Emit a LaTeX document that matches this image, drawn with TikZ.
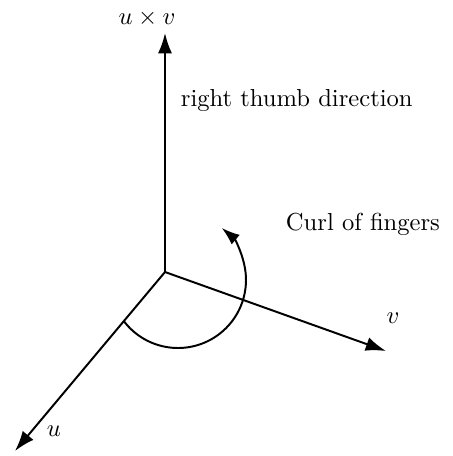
\documentclass[tikz,border=0pt]{standalone}
\usepackage{amsmath, amssymb}
\usepackage{tikz}
\usetikzlibrary{arrows.meta, positioning, calc}

\begin{document}
\begin{tikzpicture}[
  x=0.0143cm, y=-0.0143cm,
  axis/.style={thick, -{Latex[length=2.9mm, width=2mm]}},
  curl/.style={thick, -{Latex[length=2.6mm, width=1.8mm]}},
  lbl/.style={font=\normalsize, inner sep=1pt}
]
\useasboundingbox (0,0) rectangle (452,456);

%% ── Axes from the common origin
\coordinate (O) at (165,272);
\coordinate (uv) at (165,33);
\coordinate (vtip) at (386,351);
\coordinate (utip) at (15,451);
\draw[axis] (O) -- (uv);
\draw[axis] (O) -- (vtip);
\draw[axis] (O) -- (utip);

%% ── Labels
\node[lbl] (luv) at (147,18) {$u\times v$};
\node[lbl] (lv) at (393,318) {$v$};
\node[lbl] (lu) at (54,431) {$u$};
\node[lbl, anchor=west] (thumb) at (178,100) {right thumb direction};
\node[lbl, anchor=west] (fingers) at (283,224) {Curl of fingers};

%% ── Curl arc, from the u axis round past v
\coordinate (cc) at (178,280);
\draw[curl] ($(cc)+(142.6:68)$) arc[start angle=142.6, end angle=-50, radius=68];

\end{tikzpicture}
\end{document}
